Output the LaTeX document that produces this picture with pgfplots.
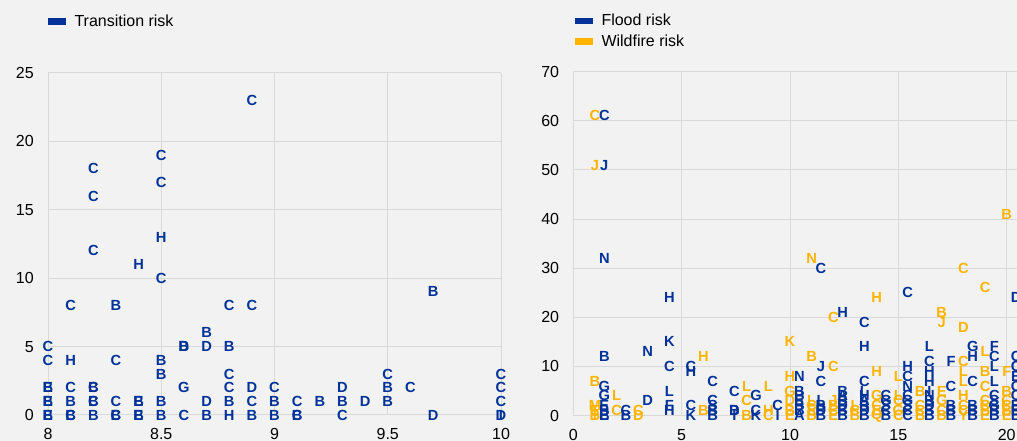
\documentclass[border=0pt]{standalone}
\usepackage{fontspec}
\setmainfont{Liberation Sans}
\usepackage{pgfplots}
\pgfplotsset{compat=1.18}

\definecolor{ecbblue}{HTML}{003299}
\definecolor{ecbyellow}{HTML}{FFB400}
\definecolor{gridgray}{HTML}{D9D9D9}
\definecolor{bg}{HTML}{F2F2F2}

\pgfplotsset{
  riskaxis/.style={
    scale only axis,
    clip=false,
    axis line style={draw=none},
    grid=major,
    major grid style={gridgray, line width=0.75pt},
    major tick length=0pt,
    /pgf/number format/assume math mode=true,
    ticklabel style={font=\fontsize{12}{14}\selectfont, text=black},
    yticklabel style={inner sep=0pt, xshift=-10.5pt},
    xticklabel style={inner sep=0pt, yshift=-10pt},
    legend cell align=left,
    legend style={draw=none, fill=none, inner sep=0pt, outer sep=0pt,
      column sep=6.75pt, row sep=5pt,
      nodes={inner sep=0pt, font=\fontsize{12}{14}\selectfont}},
  },
  letters/.style={
    draw=none, mark=none, forget plot,
    nodes near coords, point meta=explicit symbolic,
    nodes near coords align={center},
    every node near coord/.append style={inner sep=0pt,
      font=\fontsize{11}{12}\bfseries\selectfont, text=#1},
  },
}

\begin{document}
\begin{tikzpicture}
\fill[bg] (0,0) rectangle (762.75pt,330.75pt);

% left panel: transition risk
\begin{axis}[riskaxis,
  at={(36pt,19.5pt)}, anchor=south west,
  width=339.75pt, height=256.5pt,
  xmin=8, xmax=10, ymin=0, ymax=25,
  xtick={8,8.5,9,9.5,10}, ytick={0,5,...,25},
  legend style={at={(axis description cs:0,1.151)}, anchor=west},
]
\addlegendimage{legend image code/.code={\fill[ecbblue] (0pt,-2pt) rectangle (12.75pt,2pt);}}
\addlegendentry{Transition risk}
\addplot[letters=ecbblue] table[meta=l] {
x y l
8 0 B
8 0 E
8 1 B
8 1 E
8 2 B
8 2 E
8 4 C
8 5 C
8.1 0 B
8.1 0 C
8.1 1 B
8.1 2 C
8.1 4 H
8.1 8 C
8.2 0 B
8.2 1 B
8.2 1 C
8.2 2 B
8.2 2 C
8.2 12 C
8.2 16 C
8.2 18 C
8.3 0 B
8.3 0 C
8.3 1 C
8.3 4 C
8.3 8 B
8.4 0 B
8.4 0 E
8.4 1 B
8.4 1 E
8.4 11 H
8.5 0 B
8.5 1 B
8.5 3 B
8.5 4 B
8.5 10 C
8.5 13 H
8.5 17 C
8.5 19 C
8.6 0 C
8.6 2 G
8.6 5 B
8.6 5 D
8.7 0 B
8.7 1 D
8.7 5 D
8.7 6 B
8.8 0 H
8.8 1 B
8.8 2 C
8.8 3 C
8.8 5 B
8.8 8 C
8.9 0 B
8.9 1 C
8.9 2 D
8.9 8 C
8.9 23 C
9 0 B
9 1 B
9 2 C
9.1 0 B
9.1 0 C
9.1 1 C
9.2 1 B
9.3 0 C
9.3 1 B
9.3 2 D
9.4 1 D
9.5 1 B
9.5 2 B
9.5 3 C
9.6 2 C
9.7 0 D
9.7 9 B
10 0 D
10 0 I
10 1 C
10 2 C
10 3 C
};
\end{axis}

% right panel: flood and wildfire risk
\begin{axis}[riskaxis,
  at={(430pt,19.05pt)}, anchor=south west,
  width=406.3pt, height=257.9pt,
  xmin=0, xmax=25, ymin=0, ymax=70,
  xtick={0,5,...,25}, ytick={0,10,...,70},
  legend style={at={(axis description cs:0.003,1.118)}, anchor=west},
]
\addlegendimage{legend image code/.code={\fill[ecbblue] (0pt,-2pt) rectangle (12.75pt,2pt);}}
\addlegendentry{Flood risk}
\addlegendimage{legend image code/.code={\fill[ecbyellow] (0pt,-2pt) rectangle (12.75pt,2pt);}}
\addlegendentry{Wildfire risk}
\addplot[letters=ecbblue] table[meta=l] {
x y l
1.43 0 B
1.43 0 E
1.43 1 B
1.43 2 E
1.43 4 G
1.43 6 G
1.43 12 B
1.43 32 N
1.43 51 J
1.43 61 C
2.43 0 B
2.43 1 C
3.43 3 D
3.43 13 N
4.43 1 H
4.43 2 F
4.43 5 L
4.43 10 C
4.43 15 K
4.43 24 H
5.43 0 K
5.43 2 C
5.43 9 H
5.43 10 C
6.43 0 B
6.43 1 B
6.43 2 S
6.43 3 C
6.43 7 C
7.43 0 I
7.43 1 B
7.43 1 D
7.43 5 C
8.43 0 K
8.43 1 C
8.43 4 G
9.43 0 I
9.43 2 C
10.43 0 A
10.43 1 B
10.43 2 B
10.43 3 E
10.43 4 B
10.43 5 B
10.43 8 N
11.43 0 B
11.43 1 D
11.43 2 B
11.43 3 L
11.43 7 C
11.43 10 J
11.43 30 C
12.43 0 B
12.43 1 B
12.43 2 D
12.43 3 B
12.43 4 A
12.43 5 B
12.43 21 H
13.43 0 B
13.43 1 D
13.43 2 B
13.43 3 A
13.43 4 H
13.43 5 L
13.43 7 C
13.43 14 H
13.43 19 C
14.43 0 B
14.43 1 C
14.43 2 S
14.43 3 G
14.43 4 C
15.43 0 C
15.43 1 C
15.43 2 S
15.43 3 G
15.43 4 C
15.43 6 N
15.43 8 C
15.43 10 H
15.43 25 C
16.43 0 B
16.43 1 B
16.43 2 D
16.43 3 B
16.43 4 N
16.43 5 I
16.43 7 H
16.43 9 H
16.43 11 C
16.43 14 L
17.43 0 B
17.43 1 B
17.43 2 B
17.43 6 C
17.43 11 F
18.43 0 B
18.43 1 B
18.43 2 B
18.43 7 C
18.43 12 H
18.43 14 G
19.43 0 B
19.43 1 B
19.43 2 G
19.43 3 S
19.43 4 C
19.43 7 L
19.43 10 L
19.43 12 C
19.43 14 F
20.43 0 B
20.43 1 B
20.43 2 B
20.43 4 C
20.43 6 C
20.43 8 E
20.43 10 C
20.43 12 C
20.43 24 D
};
\addplot[letters=ecbyellow] table[meta=l] {
x y l
1 0 B
1 0 I
1 1 E
1 2 M
1 7 B
1 51 J
1 61 C
2 1 C
2 4 L
3 0 D
3 1 C
6 1 B
6 12 H
8 0 B
8 3 C
8 6 L
9 0 C
9 1 H
9 6 L
10 0 E
10 1 B
10 3 D
10 5 G
10 8 H
10 15 K
11 0 B
11 1 E
11 2 C
11 3 L
11 12 B
11 32 N
12 0 E
12 1 C
12 2 B
12 3 J
12 10 C
12 20 C
13 0 B
13 1 C
13 2 L
14 0 Q
14 1 E
14 2 C
14 4 G
14 9 H
14 24 H
15 0 C
15 1 G
15 3 C
15 4 L
15 8 L
16 0 B
16 1 C
16 2 C
16 5 B
17 0 B
17 1 C
17 3 G
17 5 E
17 19 J
17 21 B
18 0 Y
18 1 C
18 2 C
18 4 H
18 7 L
18 9 L
18 11 C
18 18 D
18 30 C
19 0 E
19 1 B
19 2 C
19 3 C
19 6 C
19 9 B
19 13 L
19 26 C
20 0 E
20 1 B
20 2 C
20 3 C
20 5 B
20 9 F
20 41 B
};
\end{axis}

\pgfresetboundingbox
\useasboundingbox (0,0) rectangle (762.75pt,330.75pt);
\end{tikzpicture}
\end{document}
